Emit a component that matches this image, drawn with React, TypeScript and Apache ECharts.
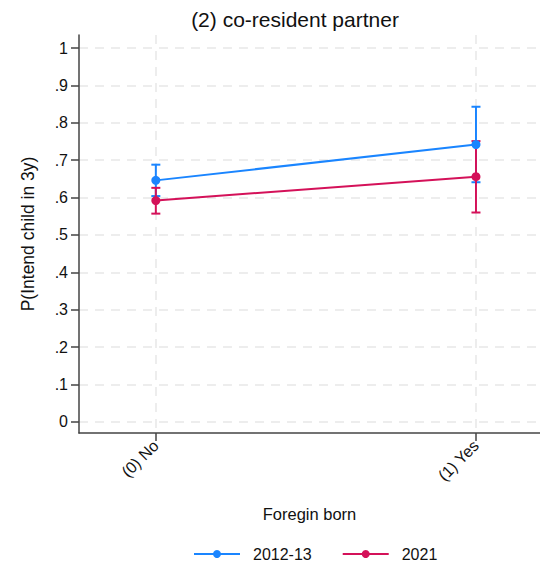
import React, { useEffect, useRef } from "react";
import * as echarts from "echarts";

const titleText = "(2) co-resident partner";
const xCategories = ["(0) No", "(1) Yes"];
const xPositions = [0, 1];
const yTicks = [0, 0.1, 0.2, 0.3, 0.4, 0.5, 0.6, 0.7, 0.8, 0.9, 1];
const seriesNames = ["2012-13", "2021"];
const seriesColors = ["#1A85FF", "#D41159"];
const est2012 = [0.646, 0.742];
const lo2012 = [0.604, 0.641];
const hi2012 = [0.688, 0.843];
const est2021 = [0.592, 0.656];
const lo2021 = [0.557, 0.56];
const hi2021 = [0.626, 0.751];

const fmtY = (v: number) => {
  if (Math.abs(v) < 1e-9) return "0";
  if (Math.abs(v - 1) < 1e-9) return "1";
  return "." + Math.round(v * 10);
};

export default function App() {
  const ref = useRef<HTMLDivElement>(null);
  useEffect(() => {
    document.body.style.margin = "0";
    if (!ref.current) return;
    const chart = echarts.init(ref.current, null, { renderer: "svg" });
    const font = "Liberation Sans, Arial, sans-serif";
    const estimates = [est2012, est2021];
    const lows = [lo2012, lo2021];
    const highs = [hi2012, hi2021];

    const errSeries = seriesNames.map((name, si) => ({
      type: "custom",
      name: name + " CI",
      z: 2,
      data: xPositions.map((x, i) => [x, lows[si][i], highs[si][i]]),
      renderItem: (params: any, api: any) => {
        const x = api.value(0);
        const lo = api.coord([x, api.value(1)]);
        const hi = api.coord([x, api.value(2)]);
        const cw = 4.5;
        const style = { stroke: seriesColors[si], lineWidth: 2, fill: "none" };
        return {
          type: "group",
          children: [
            { type: "line", shape: { x1: lo[0], y1: lo[1], x2: hi[0], y2: hi[1] }, style },
            { type: "line", shape: { x1: lo[0] - cw, y1: lo[1], x2: lo[0] + cw, y2: lo[1] }, style },
            { type: "line", shape: { x1: hi[0] - cw, y1: hi[1], x2: hi[0] + cw, y2: hi[1] }, style },
          ],
        };
      },
    }));

    const lineSeries = seriesNames.map((name, si) => ({
      type: "line",
      name,
      z: 3,
      data: xPositions.map((x, i) => [x, estimates[si][i]]),
      symbol: "circle",
      symbolSize: 9,
      itemStyle: { color: seriesColors[si] },
      lineStyle: { color: seriesColors[si], width: 2 },
    }));

    chart.setOption({
      animation: false,
      backgroundColor: "#ffffff",
      textStyle: { fontFamily: font },
      title: {
        text: titleText,
        left: 290,
        top: 4,
        textAlign: "center",
        textStyle: { fontFamily: font, fontSize: 21, fontWeight: "normal", color: "#111" },
      },
      grid: { left: 79, right: 0, top: 35, bottom: 134, containLabel: false },
      legend: {
        data: seriesNames,
        top: 541,
        left: 188,
        itemWidth: 46,
        itemHeight: 10,
        itemGap: 30,
        textStyle: { fontSize: 16, color: "#111", fontFamily: font, padding: [0, 0, 0, 8] },
      },
      xAxis: {
        type: "value",
        min: -0.24,
        max: 1.2,
        name: "Foregin born",
        nameLocation: "middle",
        nameGap: 72,
        nameTextStyle: { fontSize: 16.5, color: "#111", fontFamily: font },
        axisLine: { show: true, onZero: false, lineStyle: { color: "#444", width: 1.5 } },
        axisTick: { show: true, length: 8, customValues: xPositions, lineStyle: { color: "#444", width: 1.5 } },
        axisLabel: {
          customValues: xPositions,
          rotate: 45,
          fontSize: 16,
          color: "#111",
          margin: 10,
          formatter: (v: number) => xCategories[Math.round(v)] ?? "",
        },
        splitLine: {
          show: true,
          lineStyle: { color: "#e8e8e8", type: [9, 7], width: 1.5 },
        },
      },
      yAxis: {
        type: "value",
        min: -0.03,
        max: 1.035,
        name: "P(Intend child in 3y)",
        nameLocation: "middle",
        nameGap: 42,
        nameRotate: 90,
        nameTextStyle: { fontSize: 17.5, color: "#111", fontFamily: font },
        axisLine: { show: true, onZero: false, lineStyle: { color: "#444", width: 1.5 } },
        axisTick: { show: true, length: 8, customValues: yTicks, lineStyle: { color: "#444", width: 1.5 } },
        axisLabel: {
          customValues: yTicks,
          fontSize: 16,
          color: "#111",
          margin: 11,
          formatter: (v: number) => fmtY(v),
        },
        splitLine: {
          show: true,
          lineStyle: { color: "#e8e8e8", type: [9, 7], width: 1.5 },
        },
      },
      series: [...errSeries, ...lineSeries],
    } as any);
    return () => chart.dispose();
  }, []);
  return <div ref={ref} style={{ width: 540, height: 567 }} />;
}
